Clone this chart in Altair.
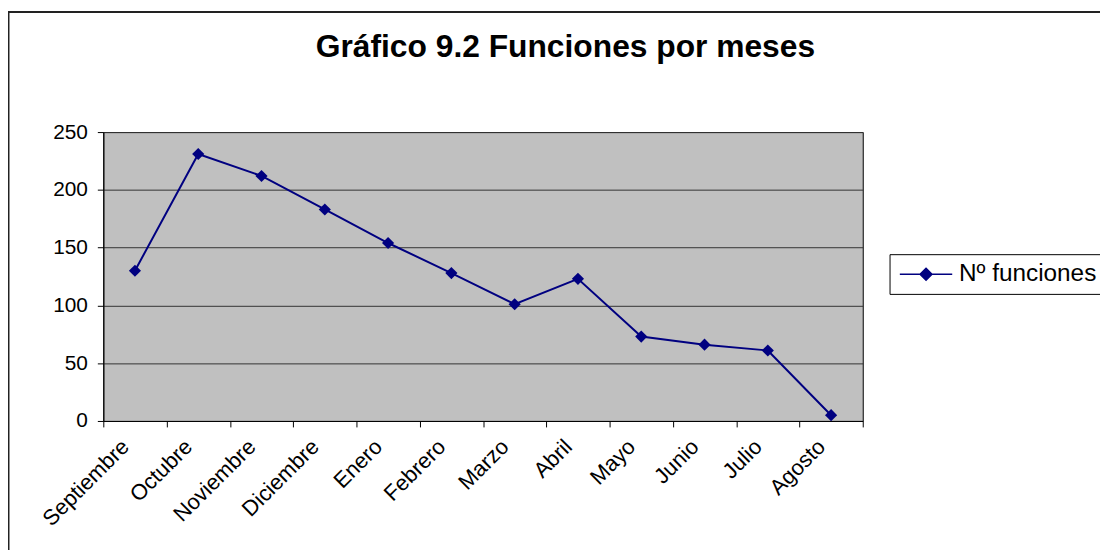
import altair as alt
import pandas as pd

meses = ["Septiembre", "Octubre", "Noviembre", "Diciembre", "Enero", "Febrero",
         "Marzo", "Abril", "Mayo", "Junio", "Julio", "Agosto"]
funciones = [130, 231, 212, 183, 154, 128, 101, 123, 73, 66, 61, 5]
serie = "Nº funciones"
titulo = "Gráfico 9.2 Funciones por meses"
y_ticks = [0, 50, 100, 150, 200, 250]

df = pd.DataFrame({"mes": meses, "funciones": funciones, "serie": [serie] * len(meses)})

NAVY = "#000080"
FONT = "Liberation Sans"
legend_path = "M-4.4,0H4.4M0,-1L1,0L0,1L-1,0Z"

x = alt.X(
    "mes:N", sort=meses, bandPosition=0.5,
    scale=alt.Scale(type="band", paddingInner=0, paddingOuter=0),
    axis=alt.Axis(title=None, tickBand="extent", labelAngle=-45, labelAlign="right",
                  labelBaseline="middle", labelFontSize=22, labelFont=FONT,
                  labelColor="black", labelPadding=16, labelOffset=-10, tickSize=6,
                  tickColor="black", domainColor="black", grid=False),
)
y = alt.Y(
    "funciones:Q",
    scale=alt.Scale(domain=[0, 250], nice=False),
    axis=alt.Axis(title=None, values=y_ticks, labelFontSize=21, labelFont=FONT,
                  labelColor="black", labelPadding=10, tickSize=6, tickColor="black",
                  domainColor="black", grid=True, gridColor="#333333", gridWidth=1),
)

frame = alt.Chart(pd.DataFrame({"k": [0]})).mark_rect(
    filled=False, stroke="#222222", strokeWidth=2
).encode(
    x=alt.value(-95.5), x2=alt.value(1400), y=alt.value(-121), y2=alt.value(700)
)

line = alt.Chart(df).mark_line(color=NAVY, strokeWidth=2).encode(x=x, y=y)

points = alt.Chart(df).mark_point(shape="diamond", filled=True, size=150, opacity=1).encode(
    x=x, y=y,
    color=alt.Color(
        "serie:N", scale=alt.Scale(range=[NAVY]),
        legend=alt.Legend(title=None, orient="none", legendX=792, legendY=123,
                          strokeColor="black", fillColor="white", padding=8,
                          symbolType=legend_path, symbolSize=144, symbolOffset=16.5,
                          symbolStrokeColor=NAVY, symbolFillColor=NAVY,
                          symbolStrokeWidth=1.5, symbolOpacity=1,
                          labelFont=FONT, labelFontSize=24.5, labelColor="black",
                          labelOffset=21),
    ),
)

chart = alt.layer(frame, line, points).properties(
    width=765, height=291,
    autosize=alt.AutoSizeParams(type="none"),
    padding={"left": 96, "top": 123, "right": 239, "bottom": 128},
    title=alt.TitleParams(text=titulo, font=FONT, fontSize=32, fontWeight="bold",
                          color="black", anchor="middle", frame="group",
                          baseline="alphabetic", offset=-78, dx=83),
).configure(
    background="white",
    view=alt.ViewConfig(fill="#C0C0C0", stroke="black", strokeWidth=1),
)

chart.save("out.html", embed_options={"renderer": "svg", "actions": False})
